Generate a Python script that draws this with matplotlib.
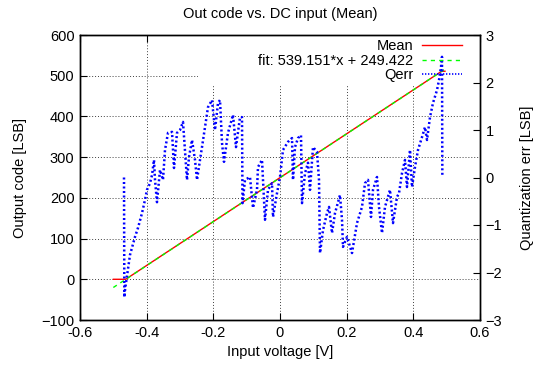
import numpy as np
import matplotlib
matplotlib.use('agg')
import matplotlib.pyplot as plt
from matplotlib.patches import Rectangle

plt.rcParams['font.family'] = ['Liberation Sans', 'DejaVu Sans']

# Mean output code (clamped between 0 and 511)
mean_v = [-0.5, -0.463, 0.485, 0.495]
mean_code = [0, 0, 511, 511]

# linear fit
fit_slope = 539.151
fit_offset = 249.422
fit_v = [-0.5, 0.495]

# quantization error [LSB]
qerr_v = [-0.468, -0.467, -0.465, -0.450, -0.435, -0.426, -0.414, -0.405, -0.399, -0.390,
          -0.384, -0.378, -0.375, -0.369, -0.360, -0.351, -0.345, -0.336, -0.324, -0.318,
          -0.309, -0.300, -0.291, -0.279, -0.273, -0.264, -0.255, -0.249, -0.240, -0.234,
          -0.225, -0.216, -0.204, -0.195, -0.186, -0.180, -0.174, -0.168, -0.156, -0.141,
          -0.132, -0.120, -0.114, -0.1125, -0.105, -0.090, -0.081, -0.069, -0.066, -0.054,
          -0.045, -0.036, -0.024, -0.021, -0.009, 0.000, 0.009, 0.024, 0.036, 0.039,
          0.045, 0.054, 0.063, 0.066, 0.075, 0.084, 0.090, 0.099, 0.111, 0.117,
          0.120, 0.129, 0.141, 0.147, 0.156, 0.165, 0.180, 0.186, 0.189, 0.201,
          0.216, 0.231, 0.246, 0.255, 0.264, 0.273, 0.279, 0.291, 0.297, 0.306,
          0.315, 0.330, 0.339, 0.351, 0.357, 0.366, 0.375, 0.381, 0.390, 0.396,
          0.405, 0.414, 0.426, 0.435, 0.441, 0.450, 0.459, 0.471, 0.477, 0.483,
          0.486, 0.487]
qerr = [0.0, -2.52, -2.37, -1.63, -1.25, -1.06, -0.75, -0.47, -0.26, -0.12,
        0.05, 0.37, -0.05, -0.52, 0.16, -0.05, 0.58, 0.94, 0.96, 0.20,
        0.94, 1.00, 1.17, -0.05, 0.43, 0.79, 0.37, -0.05, 0.37, 0.64,
        1.06, 1.48, 1.63, 1.00, 1.57, 1.63, 0.73, 0.33, 0.94, 1.32,
        0.64, 1.27, 1.27, -0.54, -0.05, 0.01, -0.64, -0.26, 0.22, 0.37,
        -0.89, -0.26, -0.12, -0.83, -0.33, 0.01, 0.58, 0.75, 0.83, -0.05,
        0.64, 0.83, 0.89, -0.54, 0.09, 0.31, -0.26, 0.64, 0.54, -0.05,
        -1.59, -1.11, -0.75, -0.62, -1.17, -0.75, -0.37, -0.89, -1.46, -1.25,
        -1.59, -0.96, -0.62, -0.12, -0.05, -0.83, -0.26, 0.01, -0.62, -1.17,
        -0.62, -0.26, -0.96, -0.41, -0.33, 0.09, 0.37, -0.20, 0.58, -0.20,
        0.22, 0.58, 0.85, 1.06, 0.79, 1.27, 1.57, 1.84, 2.05, 2.33,
        2.54, 0.05]

x_ticks = [-0.6, -0.4, -0.2, 0, 0.2, 0.4, 0.6]
y_ticks = [-100, 0, 100, 200, 300, 400, 500, 600]
y2_ticks = [-3, -2, -1, 0, 1, 2, 3]

fig = plt.figure(figsize=(5.34, 3.71), dpi=100)
ax = fig.add_axes([80/534, 1 - 320/371, 400/534, 285/371])
ax2 = ax.twinx()

fs = 10.5

# mean + fit on left axis
fit_code = [fit_slope*v + fit_offset for v in fit_v]
l1, = ax.plot(mean_v, mean_code, color='#ff0000', lw=1, zorder=3, label='Mean')
l2, = ax.plot(fit_v, fit_code, color='#00ff00', lw=1, ls=(0, (3, 3)), zorder=4,
              label='fit: 539.151*x + 249.422')

# qerr on right axis
l3, = ax2.plot(qerr_v, qerr, color='#0000ff', lw=1.8, ls=(0, (0.8, 1.0)), zorder=3, label='Qerr')

ax.set_xlim(-0.6, 0.6)
ax.set_ylim(-100, 600)
ax2.set_ylim(-3, 3)
ax.set_xticks(x_ticks)
ax.set_xticklabels(['%g' % t for t in x_ticks])
ax.set_yticks(y_ticks)
ax2.set_yticks(y2_ticks)

ax.tick_params(direction='in', length=5, width=0.8, labelsize=fs, top=True, right=False, pad=4)
ax2.tick_params(direction='in', length=5, width=0.8, labelsize=fs, pad=4)

ax.grid(True, color='#404040', ls=(0, (1, 2)), lw=0.7)
ax.set_axisbelow(True)

# white area behind the key hides the grid
ax.add_patch(Rectangle((0.295, 0.8246), 0.705, 0.1754, transform=ax.transAxes,
                       facecolor='white', edgecolor='none', zorder=1))

for a in (ax, ax2):
    for s in a.spines.values():
        s.set_linewidth(1.0)

ax.set_xlabel('Input voltage [V]', fontsize=fs, labelpad=4)
ax.set_ylabel('Output code [LSB]', fontsize=fs, labelpad=10)
ax2.set_ylabel('Quantization err [LSB]', fontsize=fs, rotation=90, labelpad=13)
ax.set_title('Out code vs. DC input (Mean)', fontsize=fs, pad=12)

leg = ax2.legend([l1, l2, l3], [l1.get_label(), l2.get_label(), l3.get_label()],
                 loc='upper right', bbox_to_anchor=(0.955, 0.986), frameon=False,
                 markerfirst=False, fontsize=fs, handlelength=2.75, handletextpad=0.6,
                 labelspacing=0.05, borderpad=0, borderaxespad=0)
leg.get_lines()[2].set_linewidth(1.2)

fig.savefig('out.png', dpi=100)
